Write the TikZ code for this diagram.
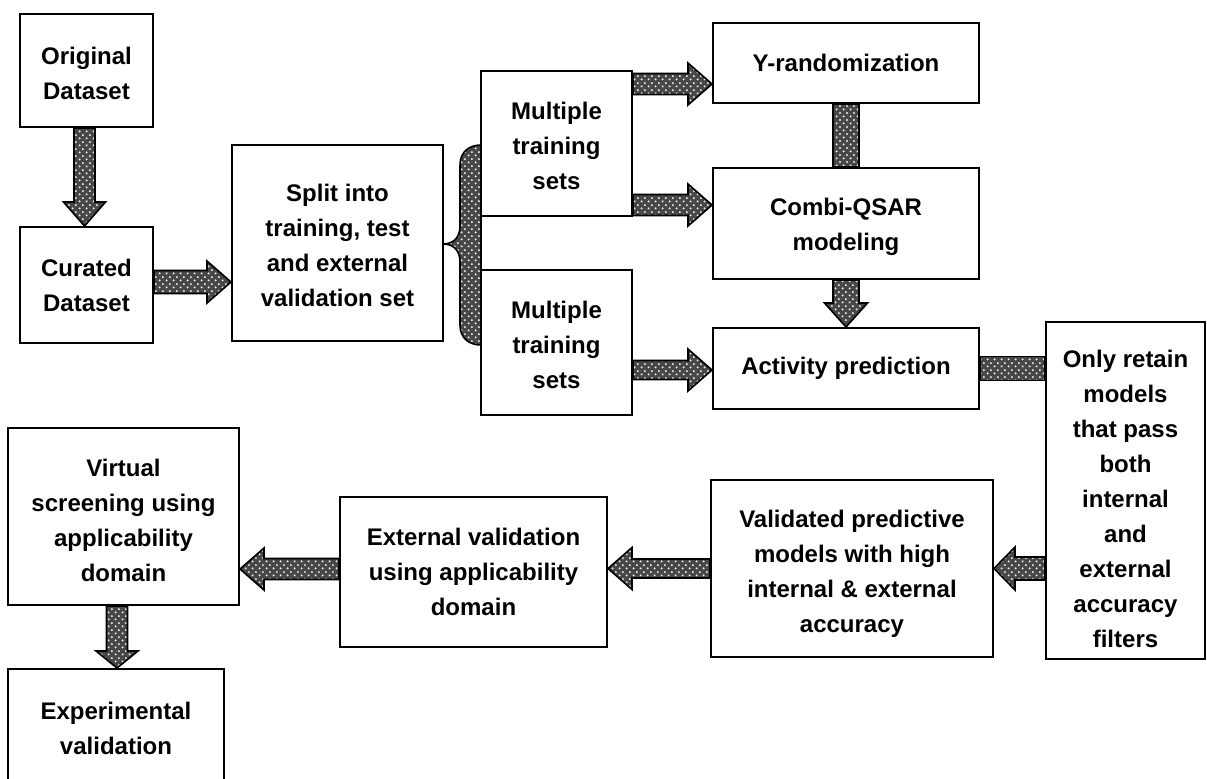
\documentclass[tikz,border=0pt]{standalone}
\usepackage{fontspec}
\setmainfont{Liberation Sans}
\usetikzlibrary{calc,patterns.meta}

% dotted texture of the block arrows
\tikzdeclarepattern{
  name=blockdots,
  type=uncolored,
  bounding box={(0pt,0pt) and (3.6pt,3.6pt)},
  tile size={(3.6pt,3.6pt)},
  code={
    \fill (0.9pt,0.9pt) circle [radius=0.6pt];
    \fill (2.7pt,2.7pt) circle [radius=0.6pt];
  }
}

% dimensions of the block arrows
\pgfkeys{/ba/.is family, /ba,
  shaft/.initial=5.25pt, head/.initial=10.5pt, len/.initial=12pt}

% block arrow from #2 to the tip #3
\newcommand\blockarrow[3][]{{%
  \pgfkeys{/ba,#1}%
  \coordinate (ba-s) at #2;
  \coordinate (ba-t) at #3;
  \coordinate (ba-h) at ($(ba-t)!\pgfkeysvalueof{/ba/len}!(ba-s)$);
  \path[blk]
    ($(ba-s)!\pgfkeysvalueof{/ba/shaft}!90:(ba-t)$) --
    ($(ba-h)!\pgfkeysvalueof{/ba/shaft}!90:(ba-t)$) --
    ($(ba-h)!\pgfkeysvalueof{/ba/head}!90:(ba-t)$) --
    (ba-t) --
    ($(ba-h)!\pgfkeysvalueof{/ba/head}!-90:(ba-t)$) --
    ($(ba-h)!\pgfkeysvalueof{/ba/shaft}!-90:(ba-t)$) --
    ($(ba-s)!\pgfkeysvalueof{/ba/shaft}!-90:(ba-t)$) -- cycle;}}

% plain patterned bar from #2 to #3, half width #1
\newcommand\blockbar[3][6pt]{%
  \coordinate (ba-s) at #2;
  \coordinate (ba-t) at #3;
  \path[blk]
    ($(ba-s)!#1!90:(ba-t)$) -- ($(ba-t)!#1!-90:(ba-s)$) --
    ($(ba-t)!#1!90:(ba-s)$) -- ($(ba-s)!#1!-90:(ba-t)$) -- cycle;}

% strut that lowers the first line of a box
\newcommand\firstline[1]{\rule{0pt}{#1}}

\begin{document}
\begin{tikzpicture}[x=0.5pt, y=-0.5pt,
  box/.style={draw, line width=1pt, fill=white, align=center, inner sep=0pt,
    font=\fontsize{12}{17.5}\selectfont\bfseries},
  blk/.style={draw=black, line width=0.8pt, preaction={fill=black!72},
    pattern=blockdots, pattern color=white!92!black}]
\useasboundingbox (0,0) rectangle (1207,778);
\fill[white] (0,0) rectangle (1207,778);
\clip (0,0) rectangle (1207,778);

% brace joining the split to the two groups of training sets
\path[blk] (481,145) .. controls (469,145) and (460,152) .. (460,165)
  -- (460,226) .. controls (460,238) and (453,244) .. (443,244)
  .. controls (453,244) and (460,250) .. (460,262)
  -- (460,325) .. controls (460,338) and (469,345) .. (481,345) -- cycle;

% process boxes
\node[box, minimum width=66.5pt, minimum height=56.5pt] (orig) at (86.5,70.5) {\firstline{11.5pt}Original\\Dataset};
\node[box, minimum width=66.5pt, minimum height=58pt] (cur) at (86.5,285) {Curated\\Dataset};
\node[box, minimum width=105.5pt, minimum height=98pt] (split) at (337.5,243) {\firstline{11pt}Split into\\training, test\\and external\\validation set};
\node[box, minimum width=75.5pt, minimum height=72.5pt] (mts1) at (556.5,143.5) {\firstline{11.5pt}Multiple\\training\\sets};
\node[box, minimum width=75.5pt, minimum height=72.5pt] (mts2) at (556.5,342.5) {\firstline{11.5pt}Multiple\\training\\sets};
\node[box, minimum width=133pt, minimum height=40pt] (yrand) at (846,63) {Y-randomization};
\node[box, minimum width=133pt, minimum height=55.5pt] (combi) at (846,223.5) {\firstline{12pt}Combi-QSAR\\modeling};
\node[box, minimum width=133pt, minimum height=40.5pt] (act) at (846,368.5) {Activity prediction};
\node[box, minimum width=79.5pt, minimum height=168.5pt] (only) at (1125.5,490.5) {\firstline{17.5pt}Only retain\\models\\that pass\\both\\internal\\and\\external\\accuracy\\filters};
\node[box, minimum width=141pt, minimum height=88.5pt] (valid) at (852,568.5) {\firstline{13.5pt}Validated predictive\\models with high\\internal \& external\\accuracy};
\node[box, minimum width=133.5pt, minimum height=75pt] (ext) at (473.5,572) {External validation\\using applicability\\domain};
\node[box, minimum width=115.5pt, minimum height=88.5pt] (virt) at (123.5,516.5) {\firstline{12.5pt}Virtual\\screening using\\applicability\\domain};
\node[box, minimum width=108pt, minimum height=59.5pt] (exper) at (116,728.5) {Experimental\\validation};

% connectors
\blockarrow{($(orig.south)+(-2,0)$)}{($(cur.north)+(-2,0)$)}
\blockarrow[shaft=5.75pt]{($(cur.east)+(0,-3)$)}{(split.west |- ba-s)}
\blockarrow{($(mts1.east)+(0,-59.5)$)}{(yrand.west |- ba-s)}
\blockarrow{($(mts1.east)+(0,61.5)$)}{(combi.west |- ba-s)}
\blockarrow[shaft=4.75pt]{($(mts2.east)+(0,27.5)$)}{(act.west |- ba-s)}
\blockbar[6.5pt]{(yrand.south)}{(combi.north)}
\blockarrow[shaft=6.5pt, head=10.75pt]{(combi.south)}{(act.north)}
\blockbar[6pt]{(act.east)}{(only.west |- act.east)}
\blockarrow[shaft=5.75pt, head=10.75pt, len=10.5pt]{(only.west |- valid.east)}{(valid.east)}
\blockarrow[shaft=4.75pt]{(valid.west)}{(ext.east |- valid.west)}
\blockarrow{($(ext.west)+(0,-3)$)}{(virt.east |- ba-s)}
\blockarrow[len=8.5pt]{($(virt.south)+(-6.5,0)$)}{(ba-s |- exper.north)}
\end{tikzpicture}
\end{document}
